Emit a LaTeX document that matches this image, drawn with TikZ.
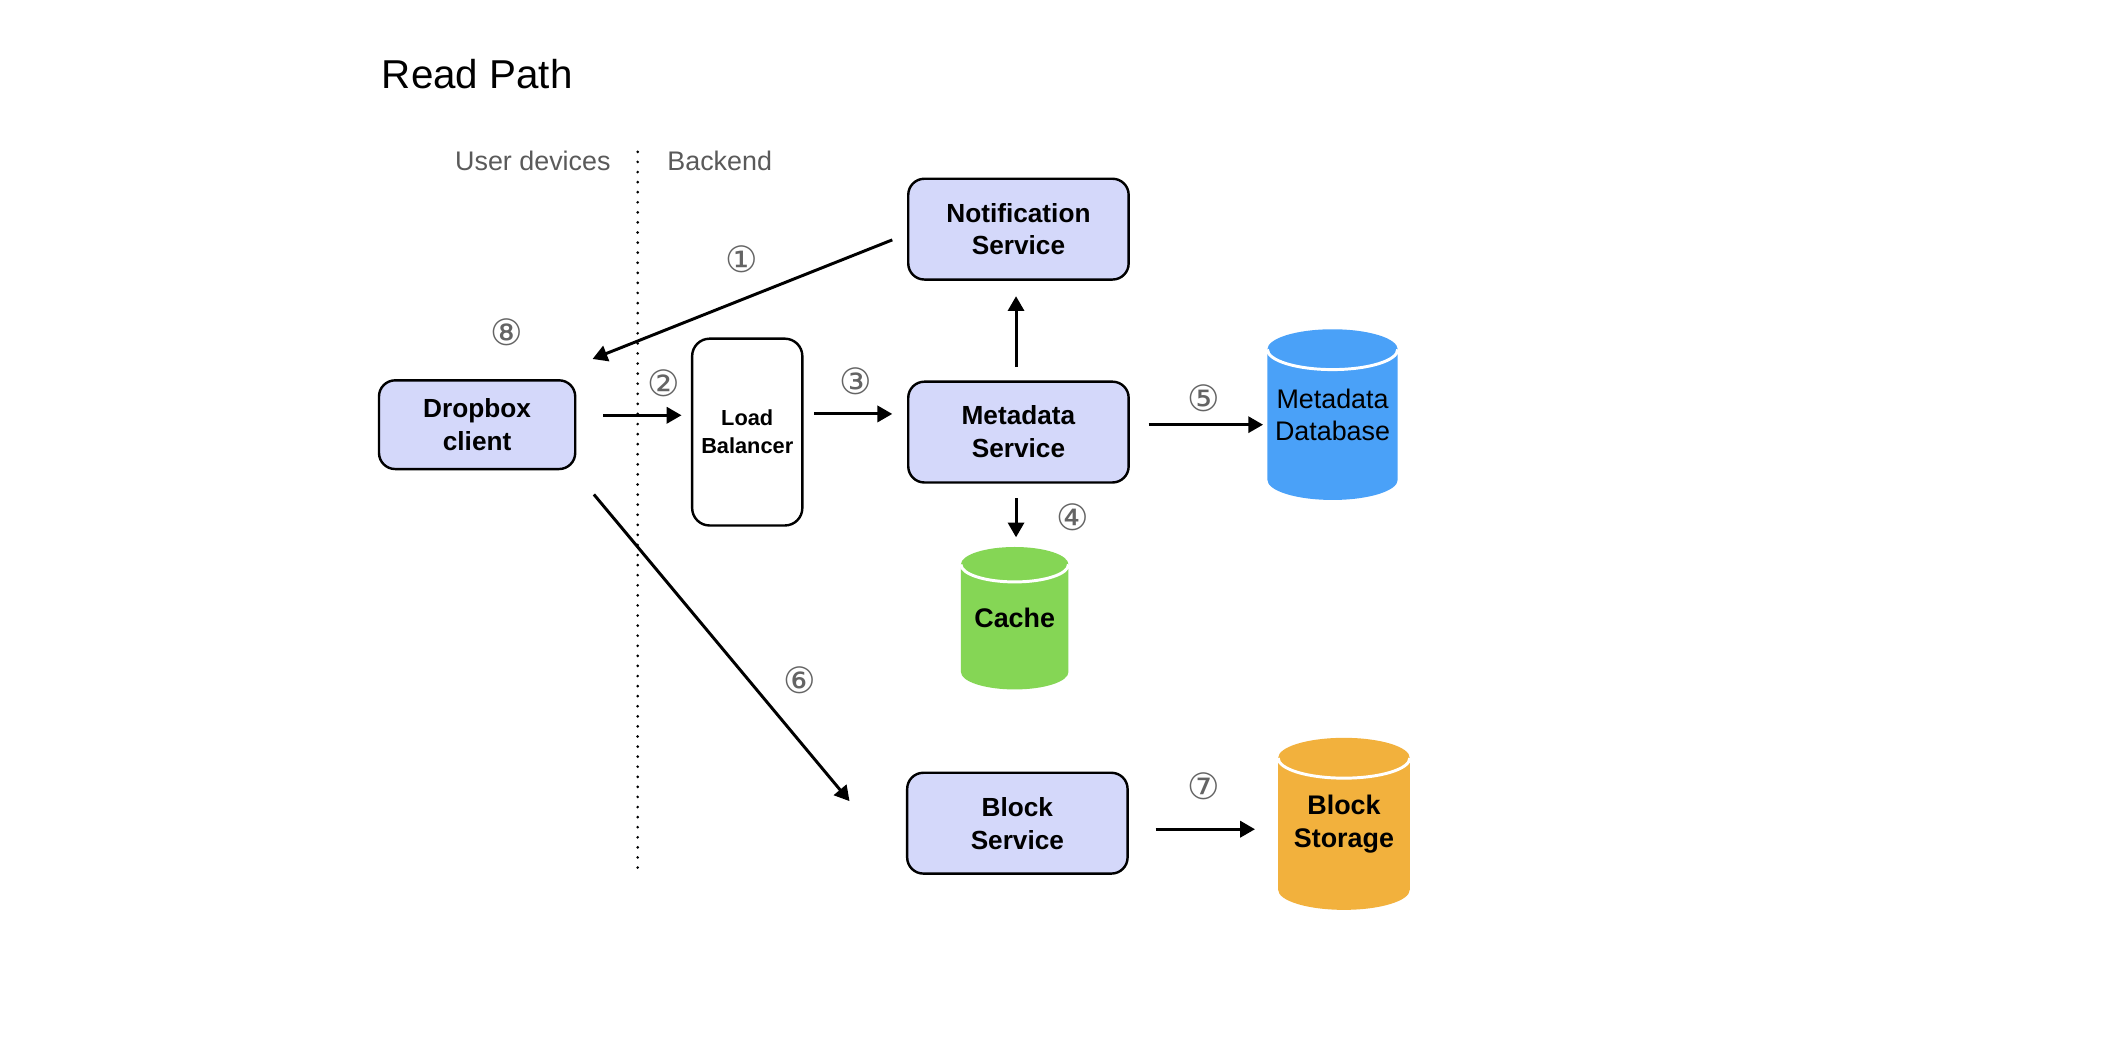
\documentclass[tikz,border=0pt]{standalone}
\usepackage{fontspec}
\setmainfont{Liberation Sans}
\newfontfamily\circfont{DejaVu Sans}
\usetikzlibrary{arrows.meta,calc}
\definecolor{lav}{RGB}{212,216,250}
\definecolor{dbblue}{RGB}{74,161,248}
\definecolor{cgreen}{RGB}{133,214,85}
\definecolor{sorange}{RGB}{242,177,61}
\definecolor{numgrey}{RGB}{100,100,100}
\definecolor{hdrgrey}{RGB}{90,90,90}
\newcommand{\mycyl}[6]{%
  \fill[#6] ({#1-#4},{-(#2+#5)}) -- ({#1-#4},{-(#3-#5)})
    arc[start angle=180,end angle=360,x radius=#4pt,y radius=#5pt]
    -- ({#1+#4},{-(#2+#5)})
    arc[start angle=0,end angle=180,x radius=#4pt,y radius=#5pt] -- cycle;
  \draw[white,line width=2.2pt] ({#1-#4},{-(#2+#5)})
    arc[start angle=180,end angle=360,x radius=#4pt,y radius=#5pt];
}
\tikzset{
  svc/.style={draw=black, line width=1.8pt, fill=lav, rounded corners=12pt,
    minimum width=164pt, minimum height=75pt, align=center, inner sep=0pt,
    font=\bfseries\fontsize{19.5}{24.5}\selectfont},
  lbbox/.style={draw=black, line width=1.8pt, fill=white, rounded corners=13pt,
    minimum width=82pt, minimum height=139pt, align=center, inner sep=0pt,
    font=\bfseries\fontsize{16.2}{21}\selectfont},
  cyltxt/.style={inner sep=0pt, align=center, font=\fontsize{20}{24}\selectfont},
  arr/.style={line width=2.2pt, -{Triangle[length=11pt,width=12pt]}},
  num/.style={font=\circfont\fontsize{27}{27}\selectfont, text=numgrey, inner sep=0pt},
  hdr/.style={font=\fontsize{20}{24}\selectfont, text=hdrgrey, inner sep=0pt},
}
\begin{document}
\begin{tikzpicture}[x=1pt,y=1pt]
\useasboundingbox[fill=white] (0,0) rectangle (1570,-789);

% title and headers
\node[anchor=west, inner sep=0pt, font=\fontsize{30}{35}\selectfont] (title) at (284,-55) {Read Path};
\node[hdr] (userdev) at (396.5,-120) {User devices};
\node[hdr] (backend) at (535.5,-120) {Backend};

% dotted separator
\coordinate (septop) at (474.5,-113);
\coordinate (sepbot) at (474.5,-652);
\draw[line width=2.2pt, line cap=round, dash pattern=on 0pt off 7.5pt] (septop) -- (sepbot);

% cylinders
\mycyl{991.5}{245}{372}{48.5}{15}{dbblue}
\mycyl{755}{407}{513}{40}{13}{cgreen}
\mycyl{1000}{549}{677}{49}{15}{sorange}

% nodes
\node[svc, minimum width=146pt, minimum height=66pt] (dbx) at (355,-316) {Dropbox\\client};
\node[lbbox] (lb) at (556,-321.5) {Load\\Balancer};
\node[svc] (nt) at (757.8,-170.5) {Notification\\Service};
\node[svc] (ms) at (757.8,-321.5) {Metadata\\Service};
\node[svc] (bs) at (757,-612.5) {Block\\Service};
\node[cyltxt, minimum width=97pt, minimum height=127pt] (mdb) at (991.5,-308.5) {Metadata\\Database};
\node[cyltxt, font=\bfseries\fontsize{20}{24}\selectfont, minimum width=80pt, minimum height=106pt] (cache) at (755,-460) {Cache};
\node[cyltxt, font=\bfseries\fontsize{20}{24.5}\selectfont, minimum width=98pt, minimum height=128pt] (bst) at (1000,-613) {Block\\Storage};

% connectors
\draw[arr] ([shift={(-11,-8)}]nt.west) -- ([shift={(12,15)}]dbx.north east);
\draw[arr] ([shift={(20,7)}]dbx.east) -- ([shift={(-7,12.5)}]lb.west);
\draw[arr] ([shift={(8,13.5)}]lb.east) -- ([shift={(-11,13.5)}]ms.west);
\draw[arr] ([shift={(-1.8,10)}]ms.north) -- ([shift={(-1.8,-11.5)}]nt.south);
\draw[arr] ([shift={(14,5.5)}]ms.east) -- ([shift={(-3,-7.5)}]mdb.west);
\draw[arr] ([shift={(-1.8,-11)}]ms.south) -- ([shift={(1,7)}]cache.north);
\draw[arr] ([shift={(13,-18)}]dbx.south east) -- ([shift={(-42,-22)}]bs.north west);
\draw[arr] ([shift={(20,-4.5)}]bs.east) -- ([shift={(-17,-4)}]bst.west);

% step numbers
\node[num] (n1) at (552,-193) {①};
\node[num] (n2) at (494,-285) {②};
\node[num] (n3) at (637,-284) {③};
\node[num] (n4) at (798,-385) {④};
\node[num] (n5) at (896,-296) {⑤};
\node[num] (n6) at (595,-506) {⑥};
\node[num] (n7) at (896,-585) {⑦};
\node[num] (n8) at (377,-247) {⑧};
\end{tikzpicture}
\end{document}
